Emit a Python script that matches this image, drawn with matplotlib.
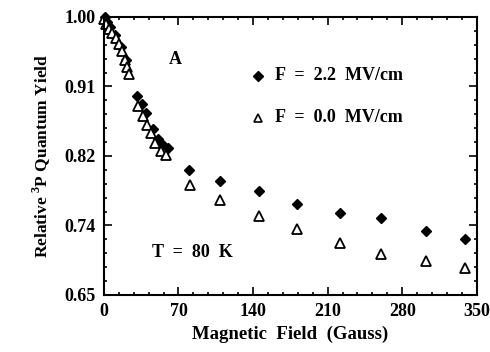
import numpy as np
import matplotlib.pyplot as plt
from matplotlib.ticker import MultipleLocator, FixedLocator, FormatStrFormatter

# F = 2.2 MV/cm (filled diamonds)
field_on = [1, 3, 6, 10, 16, 21, 31, 36, 40, 46.5, 51, 55, 60,
            80, 109, 145.5, 181.5, 222, 260, 302.5, 339]
yield_on = [1.000, 0.994, 0.987, 0.977, 0.962, 0.946, 0.900, 0.890, 0.879, 0.859, 0.846, 0.840, 0.835,
            0.807, 0.793, 0.781, 0.765, 0.753, 0.747, 0.730, 0.721]

# F = 0.0 MV/cm (open triangles)
field_off = [0, 2, 5, 7.5, 11, 14, 17, 20, 22, 24, 32, 37, 40.5, 44, 48, 54, 58.5,
             81, 109, 145.5, 181.5, 222, 260, 302.5, 339]
yield_off = [0.997, 0.991, 0.985, 0.980, 0.974, 0.966, 0.957, 0.946, 0.937, 0.928, 0.888, 0.875, 0.864,
             0.854, 0.841, 0.831, 0.826,
             0.789, 0.769, 0.749, 0.733, 0.715, 0.701, 0.693, 0.684]

yticks = np.linspace(0.65, 1.00, 5)

plt.rcParams['font.family'] = 'Liberation Serif'
plt.rcParams['font.weight'] = 'bold'
plt.rcParams['mathtext.fontset'] = 'custom'
plt.rcParams['mathtext.rm'] = 'Liberation Serif:bold'
plt.rcParams['mathtext.bf'] = 'Liberation Serif:bold'

fig = plt.figure(figsize=(4.9, 3.52), dpi=100)
ax = fig.add_axes([0.212, 0.162, 0.761, 0.790])

ax.plot(field_on, yield_on, linestyle='none', marker='D', ms=5.5, mfc='black', mec='black', clip_on=False)
ax.plot(field_off, yield_off, linestyle='none', marker='^', ms=6.5, mfc='white', mec='black', mew=1.3, clip_on=False)

ax.set_xlim(0, 350)
ax.set_ylim(0.65, 1.00)
ax.xaxis.set_major_locator(MultipleLocator(70))
ax.xaxis.set_minor_locator(MultipleLocator(14))
ax.yaxis.set_major_locator(FixedLocator(yticks))
ax.yaxis.set_minor_locator(FixedLocator(np.linspace(0.65, 1.00, 21)))
ax.yaxis.set_major_formatter(FormatStrFormatter('%.2f'))
ax.tick_params(which='both', direction='in', top=True, right=True, labelsize=13, width=1.2)
ax.tick_params(which='major', length=6, pad=6)
ax.tick_params(which='minor', length=2.5)
for s in ax.spines.values():
    s.set_linewidth(1.5)

ax.set_xlabel('Magnetic  Field  (Gauss)', fontsize=13.5, fontweight='bold', labelpad=4)
ax.set_ylabel('Relative $^{3}$P Quantum Yield', fontsize=12.5, fontweight='bold', labelpad=8)

ax.text(67, 0.946, 'A', fontsize=13, fontweight='bold', va='center', ha='center')
ax.text(45, 0.704, 'T  =  80  K', fontsize=13, fontweight='bold', va='center')

ax.plot([145], [0.926], linestyle='none', marker='D', ms=5, mfc='black', mec='black')
ax.text(161, 0.926, 'F  =  2.2  MV/cm', fontsize=13, fontweight='bold', va='center')
ax.plot([145], [0.873], linestyle='none', marker='^', ms=5.5, mfc='white', mec='black', mew=1.2)
ax.text(161, 0.873, 'F  =  0.0  MV/cm', fontsize=13, fontweight='bold', va='center')

fig.savefig('out.png', dpi=100)
